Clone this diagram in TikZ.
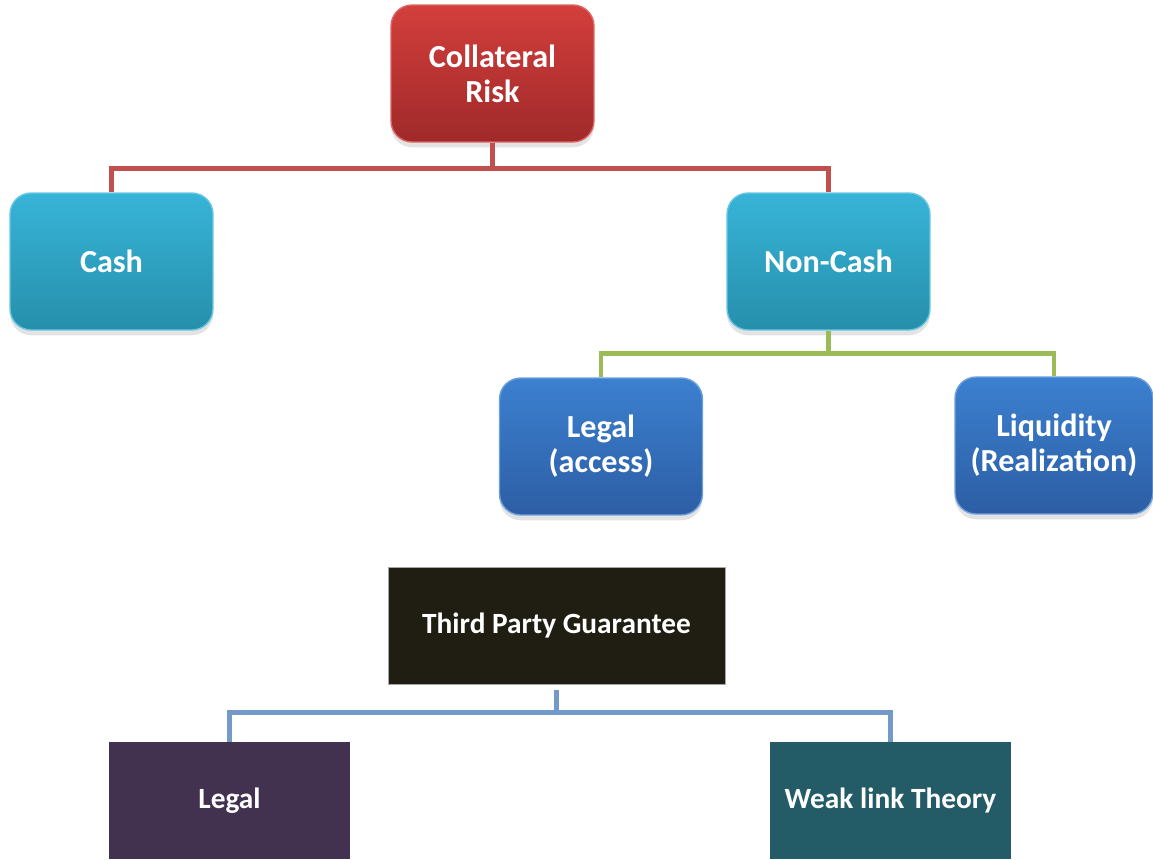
\documentclass[tikz,border=0pt]{standalone}
\usepackage{fontspec}
\setmainfont{Carlito}
\usetikzlibrary{positioning,shadows}
\definecolor{RT}{HTML}{D33F3C}
\definecolor{RB}{HTML}{A0292A}
\definecolor{CT}{HTML}{37B4D8}
\definecolor{CB}{HTML}{268FAB}
\definecolor{BT}{HTML}{3C80D0}
\definecolor{BB}{HTML}{2C5EA4}
\definecolor{GD}{HTML}{201E12}
\definecolor{PL}{HTML}{42314F}
\definecolor{TL}{HTML}{235B66}
\definecolor{LR}{HTML}{C0504D}
\definecolor{LG}{HTML}{9BBB59}
\definecolor{LB}{HTML}{7499CB}

\tikzset{
  topbox/.style={rounded corners=12pt, minimum width=4.06cm, minimum height=2.74cm,
    text=white, align=center, font=\fontsize{18.3}{20}\selectfont\bfseries,
    shading=axis, shading angle=0, line width=0.8pt,
    drop shadow={opacity=0.22, shadow xshift=0pt, shadow yshift=-3pt}},
  redbox/.style={topbox, top color=RT, bottom color=RB, draw=RT!80!white},
  cyanbox/.style={topbox, top color=CT, bottom color=CB, draw=CT!75!white},
  bluebox/.style={topbox, top color=BT, bottom color=BB, draw=BT!75!white},
  flatbox/.style={minimum width=4.82cm, minimum height=2.34cm, text=white,
    align=center, font=\fontsize{16.7}{20}\selectfont\bfseries},
  link/.style={line width=2.8pt}
}

\begin{document}
\begin{tikzpicture}[x=0.02cm,y=-0.02cm]
  \useasboundingbox (0,0) rectangle (1153,859);

  % collateral tree
  \node[redbox] (collateral) at (492.5,73.5) {Collateral\\Risk};
  \node[cyanbox] (cash) at (111.5,261.5) {Cash};
  \node[cyanbox] (noncash) at (828.5,261.5) {Non-Cash};
  \node[bluebox] (legalaccess) at (601,446.5) {Legal\\(access)};
  \node[bluebox, minimum width=3.96cm] (liquidity) at (1054,445.5) {Liquidity\\(Realization)};

  \draw[link, LR] (collateral.south) -- ++(0,26) -| (cash.north);
  \draw[link, LR] (collateral.south) -- ++(0,26) -| (noncash.north);
  \draw[link, LG] (noncash.south) -- ++(0,23) -| (legalaccess.north);
  \draw[link, LG] (noncash.south) -- ++(0,23) -| (liquidity.north);

  % guarantee tree
  \node[flatbox, fill=GD, draw=gray!70, line width=0.4pt, minimum width=6.74cm]
    (guarantee) at (556.5,625.5) {Third Party Guarantee};
  \node[flatbox, fill=PL] (legal) at (229.5,800.5) {Legal};
  \node[flatbox, fill=TL] (weaklink) at (890.5,800.5) {Weak link Theory};

  \draw[link, LB] ([yshift=-0.12cm]guarantee.south) -- ++(0,22) -| (legal.north);
  \draw[link, LB] ([yshift=-0.12cm]guarantee.south) -- ++(0,22) -| (weaklink.north);
\end{tikzpicture}
\end{document}
